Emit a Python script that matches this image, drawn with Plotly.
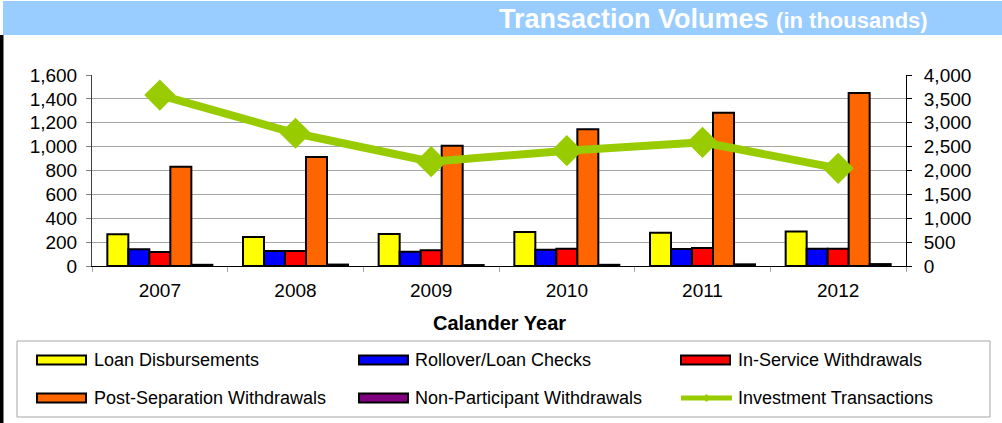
import plotly.graph_objects as go

years = ["2007", "2008", "2009", "2010", "2011", "2012"]
loan_disbursements = [265, 243, 268, 285, 279, 290]
rollover_loan_checks = [140, 126, 120, 137, 142, 145]
in_service_withdrawals = [117, 126, 131, 145, 151, 145]
post_separation_withdrawals = [832, 913, 1008, 1145, 1284, 1449]
non_participant_withdrawals = [10, 12, 8, 10, 14, 16]
investment_transactions = [3580, 2780, 2185, 2415, 2590, 2045]

bar_names = ["Loan Disbursements", "Rollover/Loan Checks", "In-Service Withdrawals",
             "Post-Separation Withdrawals", "Non-Participant Withdrawals"]
bar_values = [loan_disbursements, rollover_loan_checks, in_service_withdrawals,
              post_separation_withdrawals, non_participant_withdrawals]
bar_colors = ["#FFFF00", "#0000FF", "#FF0000", "#FF6600", "#800080"]
line_name = "Investment Transactions"
line_color = "#99CC00"

FONT = "Liberation Sans, Arial, sans-serif"

# plot area in pixels
L, R, T, B = 92, 906, 75, 266
W, H = 1002, 423


def px(x):
    return (x - L) / (R - L)


def py(y):
    return (B - y) / (B - T)


fig = go.Figure()
for name, vals, col in zip(bar_names, bar_values, bar_colors):
    fig.add_trace(go.Bar(x=years, y=vals, name=name, marker_color=col,
                         marker_line_color="black", marker_line_width=2,
                         showlegend=False))
fig.add_trace(go.Scatter(x=years, y=investment_transactions, name=line_name, yaxis="y2",
                         mode="lines+markers", line=dict(color=line_color, width=8),
                         marker=dict(symbol="diamond", size=24, color=line_color),
                         showlegend=False))

shapes = []
annotations = []
# title bar
shapes.append(dict(type="rect", xref="paper", yref="paper", x0=px(3), x1=px(1002),
                   y0=py(35), y1=py(1), fillcolor="#99CCFF", line_width=0, layer="below"))
# left black border
shapes.append(dict(type="rect", xref="paper", yref="paper", x0=px(0), x1=px(3.5),
                   y0=py(423), y1=py(35), fillcolor="black", line_width=0))
annotations.append(dict(xref="paper", yref="paper", x=px(930), y=py(19), xanchor="right",
                        yanchor="middle", showarrow=False,
                        text="<b>Transaction Volumes</b> <b><span style='font-size:22px'>(in thousands)</span></b>",
                        font=dict(family=FONT, size=27, color="white")))
# x axis title
annotations.append(dict(xref="paper", yref="paper", x=0.5, y=py(323), xanchor="center",
                        yanchor="middle", showarrow=False, text="<b>Calander Year</b>",
                        font=dict(family=FONT, size=20, color="black")))
# legend box
shapes.append(dict(type="rect", xref="paper", yref="paper", x0=px(17), x1=px(990),
                   y0=py(417), y1=py(341), line=dict(color="#A6A6A6", width=1),
                   fillcolor="rgba(0,0,0,0)"))
col_sw = [37, 359, 681]
col_tx = [92, 413, 736]
row_y = [360, 398]
legend_names = bar_names[:3] + [bar_names[3], bar_names[4], line_name]
legend_colors = bar_colors[:3] + [bar_colors[3], bar_colors[4], line_color]
for i, (nm, col) in enumerate(zip(legend_names, legend_colors)):
    r, c = i // 3, i % 3
    yc = row_y[r]
    if nm == line_name:
        shapes.append(dict(type="line", xref="paper", yref="paper", x0=px(col_sw[c]),
                           x1=px(col_sw[c] + 51), y0=py(yc), y1=py(yc),
                           line=dict(color=col, width=5)))
        cx = col_sw[c] + 25.5
        path = "M {} {} L {} {} L {} {} L {} {} Z".format(
            px(cx - 4), py(yc), px(cx), py(yc - 4), px(cx + 4), py(yc), px(cx), py(yc + 4))
        shapes.append(dict(type="path", xref="paper", yref="paper", path=path,
                           fillcolor=col, line=dict(color=col, width=0)))
    else:
        shapes.append(dict(type="rect", xref="paper", yref="paper", x0=px(col_sw[c]),
                           x1=px(col_sw[c] + 49), y0=py(yc + 4.5), y1=py(yc - 4.5),
                           fillcolor=col, line=dict(color="black", width=2)))
    annotations.append(dict(xref="paper", yref="paper", x=px(col_tx[c]), y=py(yc),
                            xanchor="left", yanchor="middle", showarrow=False, text=nm,
                            font=dict(family=FONT, size=18, color="black")))

fig.update_layout(
    width=W, height=H,
    margin=dict(l=L, r=W - R, t=T, b=H - B, pad=0),
    paper_bgcolor="white", plot_bgcolor="white",
    barmode="group", bargap=0.226, bargroupgap=0,
    font=dict(family=FONT, size=19, color="black"),
    showlegend=False,
    shapes=shapes, annotations=annotations,
    xaxis=dict(type="category", showline=True, linecolor="black", linewidth=1,
               ticks="outside", tickson="boundaries", ticklen=5, tickcolor="#A6A6A6",
               tickfont=dict(size=19), showgrid=False, ticklabelstandoff=7),
    yaxis=dict(range=[0, 1600], dtick=200, tickformat=",d", showgrid=True,
               gridcolor="#A6A6A6", gridwidth=1, showline=True, linecolor="#404040",
               linewidth=1, ticks="outside", ticklen=5, tickcolor="#808080",
               tickfont=dict(size=19), zeroline=False, ticklabelstandoff=5),
    yaxis2=dict(range=[0, 4000], dtick=500, tickformat=",d", overlaying="y", side="right",
                showgrid=False, showline=True, linecolor="black", linewidth=1,
                ticks="outside", ticklen=5, tickcolor="black", tickfont=dict(size=19),
                zeroline=False, ticklabelstandoff=8),
)

fig.write_html("out.html")
